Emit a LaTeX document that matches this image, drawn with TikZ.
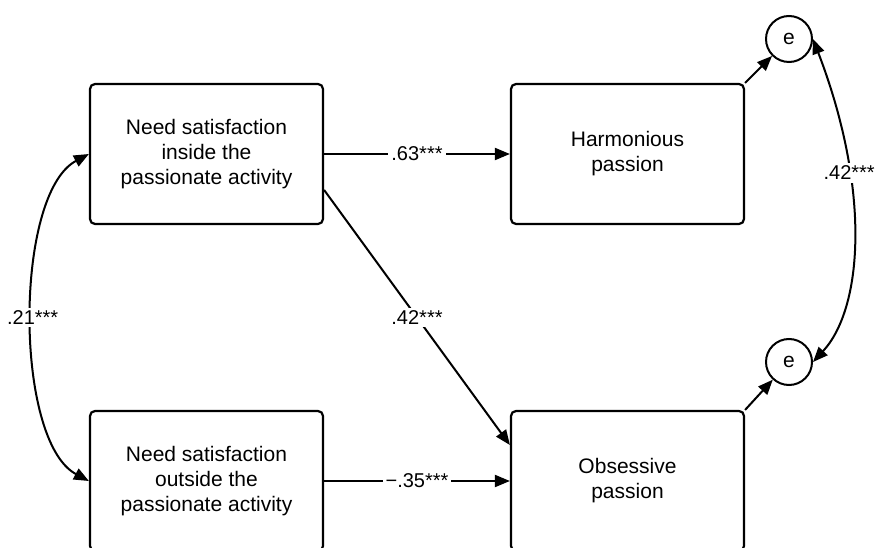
\documentclass[tikz,border=0pt]{standalone}
\usepackage{fontspec}
\setmainfont{Liberation Sans}
\usetikzlibrary{arrows.meta}
\begin{document}
\begin{tikzpicture}[x=1pt,y=1pt,
		box/.style={draw,line width=2.2pt,rounded corners=5pt,fill=white,minimum width=233pt,minimum height=140pt,align=center,font=\fontsize{21}{25}\selectfont},
		err/.style={draw,circle,line width=2pt,minimum size=46pt,inner sep=0pt,font=\fontsize{21}{25}\selectfont},
		lbl/.style={fill=white,inner sep=3pt,font=\fontsize{20}{24}\selectfont},
		path/.style={line width=2pt,-{Triangle[length=15pt,width=12pt]}},
		cov/.style={line width=2pt,{Triangle[length=15pt,width=12pt]}-{Triangle[length=15pt,width=12pt]}}]
		\useasboundingbox (0,0) rectangle (875,-548);
		\node[box] (needin) at (206.5,-154) {Need satisfaction\\inside the\\passionate activity};
		\node[box] (needout) at (206.5,-481) {Need satisfaction\\outside the\\passionate activity};
		\node[box] (harm) at (627.5,-154) {Harmonious\\passion};
		\node[box] (obs) at (627.5,-481) {Obsessive\\passion};
		\node[err] (eharm) at (789,-39) {e};
		\node[err] (eobs) at (789,-362) {e};
		\draw[path] (needin.east) -- (harm.west) node[midway,lbl] {.63***};
		\draw[path] (needout.east) -- (obs.west) node[midway,lbl] {−.35***};
		\draw[path] (needin.-17) -- (obs.163) node[midway,lbl] {.42***};
		\draw[path] (harm.north east) -- (eharm);
		\draw[path] (obs.north east) -- (eobs);
		\draw[cov] (needin.west) .. controls +(-75,-40) and +(-75,40) .. (needout.west) node[pos=0.5,lbl] {.21***};
		\draw[cov] (eharm.east) .. controls +(58,-151) and +(50,54) .. (eobs.east) node[pos=0.32,lbl] {.42***};
	\end{tikzpicture}
\end{document}
